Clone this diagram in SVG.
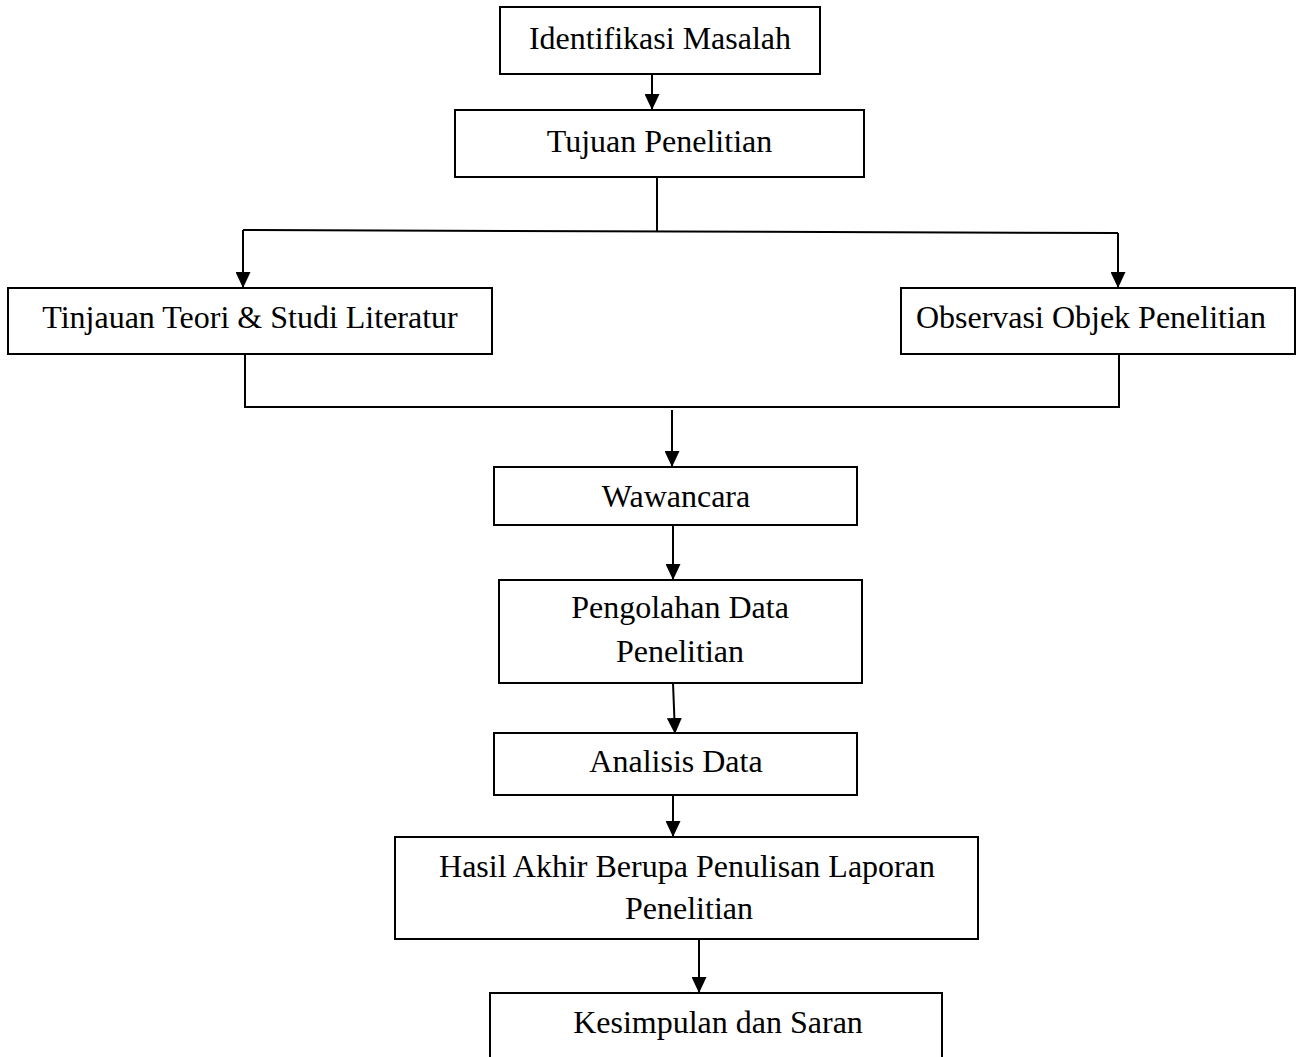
<svg xmlns="http://www.w3.org/2000/svg" width="1297" height="1057" viewBox="0 0 1297 1057">
<defs>
<style>
.box{fill:#fff;stroke:#000;stroke-width:2}
.t{font-family:"Liberation Serif","Times New Roman",serif;font-size:32px;fill:#000;text-anchor:middle}
.c{fill:none;stroke:#000;stroke-width:2}
</style>
<marker id="ah" markerUnits="userSpaceOnUse" markerWidth="16" markerHeight="15" refX="16" refY="7.5" orient="auto">
<path d="M0,0 L16,7.5 L0,15 z" fill="#000"/>
</marker>
</defs>
<rect width="1297" height="1057" fill="#fff"/>
<g id="connectors">
<line class="c" x1="652" y1="74" x2="652" y2="110" marker-end="url(#ah)"/>
<line class="c" x1="657" y1="177" x2="657" y2="232"/>
<line class="c" x1="243" y1="230" x2="1118" y2="233"/>
<line class="c" x1="243" y1="230" x2="243" y2="288" marker-end="url(#ah)"/>
<line class="c" x1="1118" y1="233" x2="1118" y2="288" marker-end="url(#ah)"/>
<line class="c" x1="245" y1="354" x2="245" y2="407"/>
<line class="c" x1="1119" y1="354" x2="1119" y2="408"/>
<line class="c" x1="244" y1="407" x2="1120" y2="407"/>
<line class="c" x1="672" y1="410" x2="672" y2="467" marker-end="url(#ah)"/>
<line class="c" x1="673" y1="525" x2="673" y2="580" marker-end="url(#ah)"/>
<line class="c" x1="673" y1="683" x2="675" y2="734" marker-end="url(#ah)"/>
<line class="c" x1="673" y1="795" x2="673" y2="837" marker-end="url(#ah)"/>
<line class="c" x1="699" y1="939" x2="699" y2="993" marker-end="url(#ah)"/>
</g>
<g id="n1"><rect class="box" x="500" y="7" width="320" height="67"/><text class="t" x="660" y="49">Identifikasi Masalah</text></g>
<g id="n2"><rect class="box" x="455" y="110" width="409" height="67"/><text class="t" x="659.5" y="152">Tujuan Penelitian</text></g>
<g id="n3"><rect class="box" x="8" y="288" width="484" height="66"/><text class="t" x="250" y="328">Tinjauan Teori &amp; Studi Literatur</text></g>
<g id="n4"><rect class="box" x="901" y="288" width="394" height="66"/><text class="t" x="1091" y="328">Observasi Objek Penelitian</text></g>
<g id="n5"><rect class="box" x="494" y="467" width="363" height="58"/><text class="t" x="676" y="507">Wawancara</text></g>
<g id="n6"><rect class="box" x="499" y="580" width="363" height="103"/><text class="t" x="680" y="618">Pengolahan Data</text><text class="t" x="680" y="662">Penelitian</text></g>
<g id="n7"><rect class="box" x="494" y="733" width="363" height="62"/><text class="t" x="676" y="772">Analisis Data</text></g>
<g id="n8"><rect class="box" x="395" y="837" width="583" height="102"/><text class="t" x="687" y="877">Hasil Akhir Berupa Penulisan Laporan</text><text class="t" x="689" y="919">Penelitian</text></g>
<g id="n9"><rect class="box" x="490" y="993" width="452" height="70"/><text class="t" x="718" y="1033">Kesimpulan dan Saran</text></g>
</svg>
